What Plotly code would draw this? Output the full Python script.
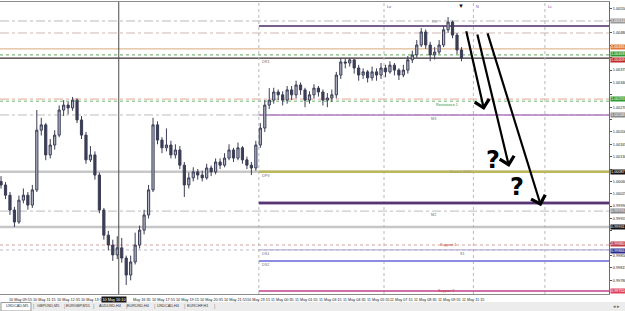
import pandas as pd
import plotly.graph_objects as go

# ---------------- data ----------------
closes = [1.00050, 1.00021, 0.99979, 0.99945, 1.00007, 1.00021, 0.99993, 1.00036, 1.00205, 1.00220,
          1.00135, 1.00163, 1.00191, 1.00262, 1.00276, 1.00268, 1.00290, 1.00234, 1.00191, 1.00121,
          1.00135, 1.00078, 0.99979, 0.99908, 0.99880, 0.99852, 0.99872, 0.99843, 0.99795, 0.99832,
          0.99880, 0.99922, 0.99965, 1.00036, 1.00220, 1.00177, 1.00155, 1.00163, 1.00135, 1.00149,
          1.00106, 1.00050, 1.00070, 1.00087, 1.00078, 1.00070, 1.00098, 1.00087, 1.00115, 1.00106,
          1.00126, 1.00149, 1.00126, 1.00155, 1.00121, 1.00106, 1.00098, 1.00163, 1.00211, 1.00276,
          1.00290, 1.00313, 1.00305, 1.00290, 1.00319, 1.00305, 1.00333, 1.00319, 1.00290, 1.00305,
          1.00324, 1.00313, 1.00290, 1.00296, 1.00305, 1.00361, 1.00398, 1.00395, 1.00404, 1.00381,
          1.00361, 1.00370, 1.00353, 1.00370, 1.00361, 1.00381, 1.00370, 1.00389, 1.00375, 1.00361,
          1.00375, 1.00404, 1.00418, 1.00446, 1.00483, 1.00446, 1.00418, 1.00426, 1.00446, 1.00489,
          1.00511, 1.00474, 1.00432, 1.00409]
highs = [1.00075, 1.00058, 1.00030, 0.99988, 1.00020, 1.00040, 1.00030, 1.00050, 1.00262, 1.00240,
         1.00225, 1.00180, 1.00205, 1.00275, 1.00290, 1.00285, 1.00299, 1.00295, 1.00245, 1.00200,
         1.00160, 1.00145, 1.00085, 0.99985, 0.99920, 0.99895, 0.99905, 0.99900, 0.99850, 0.99850,
         0.99915, 0.99935, 0.99980, 1.00050, 1.00240, 1.00230, 1.00185, 1.00210, 1.00175, 1.00165,
         1.00160, 1.00115, 1.00085, 1.00100, 1.00095, 1.00090, 1.00110, 1.00105, 1.00125, 1.00125,
         1.00140, 1.00165, 1.00155, 1.00170, 1.00160, 1.00130, 1.00115, 1.00175, 1.00225, 1.00290,
         1.00324, 1.00325, 1.00320, 1.00315, 1.00330, 1.00330, 1.00345, 1.00340, 1.00325, 1.00315,
         1.00335, 1.00330, 1.00320, 1.00310, 1.00320, 1.00370, 1.00409, 1.00409, 1.00409, 1.00405,
         1.00390, 1.00380, 1.00375, 1.00385, 1.00380, 1.00395, 1.00390, 1.00400, 1.00395, 1.00380,
         1.00390, 1.00415, 1.00430, 1.00460, 1.00494, 1.00490, 1.00455, 1.00440, 1.00460, 1.00500,
         1.00525, 1.00515, 1.00480, 1.00440]
lows = [1.00040, 1.00010, 0.99965, 0.99931, 0.99940, 0.99998, 0.99980, 0.99985, 1.00030, 1.00190,
        1.00120, 1.00125, 1.00150, 1.00185, 1.00245, 1.00250, 1.00260, 1.00225, 1.00180, 1.00110,
        1.00115, 1.00065, 0.99970, 0.99895, 0.99865, 0.99835, 0.99840, 0.99830, 0.99767, 0.99780,
        0.99825, 0.99870, 0.99910, 0.99955, 1.00030, 1.00165, 1.00140, 1.00145, 1.00125, 1.00125,
        1.00095, 1.00016, 1.00040, 1.00060, 1.00065, 1.00060, 1.00065, 1.00075, 1.00080, 1.00095,
        1.00100, 1.00120, 1.00115, 1.00120, 1.00110, 1.00095, 1.00078, 1.00090, 1.00155, 1.00200,
        1.00265, 1.00280, 1.00290, 1.00275, 1.00280, 1.00290, 1.00295, 1.00305, 1.00270, 1.00280,
        1.00295, 1.00300, 1.00275, 1.00270, 1.00285, 1.00295, 1.00350, 1.00380, 1.00385, 1.00365,
        1.00345, 1.00350, 1.00340, 1.00345, 1.00345, 1.00350, 1.00355, 1.00365, 1.00360, 1.00347,
        1.00355, 1.00365, 1.00395, 1.00410, 1.00440, 1.00435, 1.00400, 1.00405, 1.00420, 1.00440,
        1.00480, 1.00465, 1.00420, 1.00400]
first_open = 1.00060
opens = [first_open] + closes[:-1]
times = pd.date_range("2012-05-10 09:35", periods=len(closes), freq="15min")

tick_prices = [1.00550, 1.00515, 1.00480, 1.00445, 1.00410, 1.00375, 1.00340, 1.00305, 1.00270,
               1.00235, 1.00200, 1.00165, 1.00130, 1.00095, 1.00060, 1.00025, 0.99990, 0.99955,
               0.99920, 0.99885, 0.99850, 0.99815, 0.99780]
time_labels = pd.date_range("2012-05-10 09:55", "2012-05-11 11:15", freq="80min")
crosshair_time = pd.Timestamp("2012-05-10 16:10")
day_start = pd.Timestamp("2012-05-11 00:00")
session_times = [pd.Timestamp("2012-05-11 07:00"), pd.Timestamp("2012-05-11 12:00"),
                 pd.Timestamp("2012-05-11 16:00")]
session_names = ["Lo", "N", "Lc"]

# horizontal levels (price values)
lvl_band_top = 1.00514
lvl_r3 = 1.00500
lvl_band_hi = 1.00480
lvl_orange = 1.00435
lvl_ask = 1.00418
lvl_bid = 1.00409
lvl_res1 = 1.00293
lvl_res1b = 1.00287
lvl_m3 = 1.00248
lvl_pivot = 1.00087
lvl_ds = 0.99999
lvl_m2 = 0.99976
lvl_prevlow = 0.99931
lvl_sup1 = 0.99880
lvl_ds1 = 0.99866
lvl_ds2 = 0.99835
lvl_sup2 = 0.99750

tab_names = ["USDCAD,M5", "GBPUSD,M5", "EURGBP,M15", "AUDUSD,H4", "EURUSD,H4", "USDCAD,H4", "EURCHF,H1"]

# arrows: (start time, start price, end time, end price)
arrow_starts_t = ["2012-05-11 11:35", "2012-05-11 12:12", "2012-05-11 12:46"]
arrow_starts_p = [1.00489, 1.00480, 1.00483]
arrow_ends_t = ["2012-05-11 12:36", "2012-05-11 14:00", "2012-05-11 15:47"]
arrow_ends_p = [1.00262, 1.00101, 0.99990]
qmark_t = ["2012-05-11 13:06", "2012-05-11 14:26"]
qmark_p = [1.00121, 1.00044]

# ---------------- figure ----------------
W, H = 625, 311
ML, MR, MT, MB = 0, 16, 2, 17
PW, PH = W - ML - MR, H - MT - MB
anchor = pd.Timestamp("2012-05-10 09:55")
x_start = anchor - pd.Timedelta(minutes=23.5)
x_end = anchor + pd.Timedelta(minutes=2020)

FONT = "Liberation Sans"
FS = 3.8
fig = go.Figure()
fig.add_trace(go.Candlestick(
    x=times, open=opens, high=highs, low=lows, close=closes,
    increasing=dict(line=dict(color="#3a3d55", width=1), fillcolor="#b4b8c8"),
    decreasing=dict(line=dict(color="#3a3d55", width=1), fillcolor="#3a3d55"),
    whiskerwidth=0, showlegend=False, hoverinfo="skip"))

shapes = []


def hline(y, color, width=1, dash="solid", from_day=False):
    if from_day:
        shapes.append(dict(type="line", xref="x", yref="y", x0=day_start, x1=x_end, y0=y, y1=y,
                           line=dict(color=color, width=width, dash=dash), layer="below"))
    else:
        shapes.append(dict(type="line", xref="paper", yref="y", x0=0, x1=1, y0=y, y1=y,
                           line=dict(color=color, width=width, dash=dash), layer="below"))


hline(lvl_band_top, "#b9b9b9", 1, "dashdot")
hline(lvl_r3, "#4a2a62", 1.5, "solid", True)
hline(lvl_band_hi, "#d4b6b6", 1, "dashdot")
hline(lvl_orange, "#d9a878", 1)
hline(lvl_ask, "#5aa85a", 1, "dot")
hline(lvl_bid, "#3a2a2a", 1.2)
hline(lvl_res1, "#e2a596", 1, "dashdot")
hline(lvl_res1b, "#6fb56f", 1, "dot")
hline(lvl_m3, "#bdbdbd", 1, "dashdot")
hline(lvl_m3, "#b27cc4", 1.3, "solid", True)
hline(lvl_pivot, "#c8c8c8", 2.5)
hline(lvl_pivot, "#bdb85c", 2.5, "solid", True)
hline(lvl_ds, "#a788c0", 3.5, "solid", True)
hline(lvl_ds, "#3b1d50", 1.5, "solid", True)
hline(lvl_m2, "#bdbdbd", 1, "dashdot")
hline(lvl_prevlow, "#c6c6c6", 2.5)
hline(lvl_sup1, "#d8a0a0", 1, "dot")
hline(lvl_ds1, "#c0b8cc", 1, "dot")
hline(lvl_ds1, "#b8b0d0", 1.2, "solid", True)
hline(lvl_ds2, "#8c8ce0", 2, "solid", True)
hline(lvl_sup2, "#c0408e", 1.5, "solid", True)

# vertical lines
for t in [day_start] + session_times:
    shapes.append(dict(type="line", xref="x", yref="paper", x0=t, x1=t, y0=0, y1=1,
                       line=dict(color="#b8b8b8", width=1, dash="dot"), layer="below"))
shapes.append(dict(type="line", xref="x", yref="paper", x0=crosshair_time, x1=crosshair_time,
                   y0=0, y1=1, line=dict(color="#4a4a4a", width=1)))


def py(Y):
    return (H - MB - Y) / PH


def px(X):
    return (X - ML) / PW


# tab bar (below the plot)
shapes.append(dict(type="rect", xref="paper", yref="paper", x0=0, x1=W / PW, y0=py(311), y1=py(302),
                   fillcolor="#ececec", line=dict(width=0), layer="below"))
shapes.append(dict(type="rect", xref="paper", yref="paper", x0=px(1), x1=px(31), y0=py(311), y1=py(302.5),
                   fillcolor="#ffffff", line=dict(color="#9a9a9a", width=1)))

ann = []
SMALL = dict(family=FONT, size=FS, color="#222222")

# time labels: the one under the crosshair box is hidden, the next one loses its day prefix
box_left = crosshair_time - pd.Timedelta(minutes=60)
box_right = crosshair_time + pd.Timedelta(minutes=30)
for t in time_labels:
    if box_left <= t <= crosshair_time:
        continue
    text = t.strftime("%d %b %H:%M")
    shift = 0
    if crosshair_time < t <= box_right:
        text = t.strftime("%b %H:%M")
        shift = 5
    ann.append(dict(x=t, xref="x", y=0, yref="paper", yanchor="top", xanchor="left", yshift=-2,
                    xshift=shift, text=text, showarrow=False, font=SMALL))
ann.append(dict(x=crosshair_time, xref="x", y=0, yref="paper", yanchor="top", xanchor="right", xshift=8,
                yshift=-1.5, text=crosshair_time.strftime("%d %b %H:%M"), showarrow=False,
                bgcolor="#1a1a1a", font=dict(family=FONT, size=FS, color="#ffffff"), borderpad=0.5))

# tab labels
tab_x = [4, 35, 64, 97, 125, 155, 185]
for i, (name, xx) in enumerate(zip(tab_names, tab_x)):
    ann.append(dict(x=px(xx), xref="paper", y=py(306.5), yref="paper", xanchor="left", yanchor="middle",
                    text=name, showarrow=False, font=dict(family=FONT, size=FS, color="#333333")))
    ann.append(dict(x=px(xx + 27), xref="paper", y=py(306.5), yref="paper", xanchor="left",
                    yanchor="middle", text="|", showarrow=False,
                    font=dict(family=FONT, size=5, color="#888888")))
ann.append(dict(x=px(611), xref="paper", y=py(306.5), yref="paper", xanchor="left", yanchor="middle",
                text="◂ ▸", showarrow=False, font=dict(family=FONT, size=5, color="#666666")))

# price tags at the right
tag_prices = [lvl_band_top, lvl_orange, lvl_ask, lvl_bid, lvl_res1, lvl_m3, lvl_pivot, lvl_m2,
              lvl_prevlow, lvl_sup1, lvl_ds1, lvl_sup2]
tag_colors = ["#9a9a9a", "#e07a3a", "#2f9a2f", "#c02a2a", "#2f9a2f", "#8a8a8a", "#111111", "#8a8a8a",
              "#111111", "#c03a4a", "#2a2a8a", "#e0405a"]
tag_shift = [0, 1.5, 0.5, -2, 0, 0, 0, 0, 0, 1, -1, 0]
for p, c, s in zip(tag_prices, tag_colors, tag_shift):
    ann.append(dict(x=1, xref="paper", y=p, yref="y", xanchor="left", yanchor="middle", xshift=1, yshift=s,
                    text=f"{p:.5f}", showarrow=False, bgcolor=c, borderpad=0,
                    font=dict(family=FONT, size=FS, color="#ffffff")))

# tick labels hidden behind the coloured tags are left blank
shown_ticks = [v if all(abs(v - p) > 0.00014 for p in tag_prices) else None for v in tick_prices]
tick_text = [f"{v:.5f}" if v is not None else "" for v in shown_ticks]


# on-chart small texts
def label(t, y, text, color="#707070", yanchor="top"):
    ann.append(dict(x=t, xref="x", y=y, yref="y", xanchor="left", yanchor=yanchor, xshift=1,
                    text=text, showarrow=False, font=dict(family=FONT, size=FS, color=color)))


label(day_start, lvl_bid, "DR1")
label(pd.Timestamp("2012-05-11 09:30"), lvl_r3, "R3", "#8a8a8a", "bottom")
label(pd.Timestamp("2012-05-11 09:45"), lvl_res1b, "Resistance 1", "#2f8f2f")
label(pd.Timestamp("2012-05-11 09:28"), lvl_m3, "M3")
label(day_start, lvl_pivot, "DPV")
label(pd.Timestamp("2012-05-11 10:30"), lvl_pivot, "Pivot 1.0009", "#a4a070", "middle")
label(pd.Timestamp("2012-05-11 09:28"), lvl_m2, "M2")
label(pd.Timestamp("2012-05-11 09:58"), lvl_sup1, "Support 1", "#c04040", "middle")
label(pd.Timestamp("2012-05-11 11:05"), lvl_ds1, "S1")
label(day_start, lvl_ds1, "DS1")
label(day_start, lvl_ds2, "DS2")
label(pd.Timestamp("2012-05-11 09:50"), lvl_sup2, "Support 2", "#c04040", "middle")

for t, n in zip(session_times, session_names):
    ann.append(dict(x=t, xref="x", y=1, yref="paper", xanchor="left", yanchor="top", xshift=1, yshift=-1,
                    text=n, showarrow=False, font=dict(family=FONT, size=FS, color="#7a4aa0")))
ann.append(dict(x=times[-1], xref="x", y=1, yref="paper", xanchor="center", yanchor="top", yshift=1,
                text="▼", showarrow=False, font=dict(family=FONT, size=6, color="#111111")))

# arrows
for st, sp, et, ep in zip(arrow_starts_t, arrow_starts_p, arrow_ends_t, arrow_ends_p):
    ann.append(dict(x=pd.Timestamp(et), y=ep, xref="x", yref="y", ax=pd.Timestamp(st), ay=sp,
                    axref="x", ayref="y", text="", showarrow=True, arrowhead=4, arrowsize=1.3,
                    arrowwidth=2.2, arrowcolor="#000000"))
for t, p in zip(qmark_t, qmark_p):
    ann.append(dict(x=pd.Timestamp(t), y=p, xref="x", yref="y", text="<b>?</b>", showarrow=False,
                    font=dict(family="DejaVu Sans", size=24, color="#000000")))

fig.update_layout(
    width=W, height=H, margin=dict(l=ML, r=MR, t=MT, b=MB),
    paper_bgcolor="#ffffff", plot_bgcolor="#ffffff",
    shapes=shapes, annotations=ann, showlegend=False,
    xaxis=dict(range=[x_start, x_end], rangeslider=dict(visible=False), showgrid=False,
               showticklabels=False, zeroline=False, showline=True, mirror=True,
               linecolor="#8c8c8c", linewidth=1, ticks=""),
    yaxis=dict(range=[0.997414, 1.005677], side="right", showgrid=False, zeroline=False,
               tickvals=tick_prices, ticktext=tick_text,
               tickfont=dict(family=FONT, size=FS, color="#222222"), ticks="outside", ticklen=2,
               tickcolor="#555555", showline=True, linecolor="#6c6c6c", linewidth=1),
)
fig.write_html("out.html")
